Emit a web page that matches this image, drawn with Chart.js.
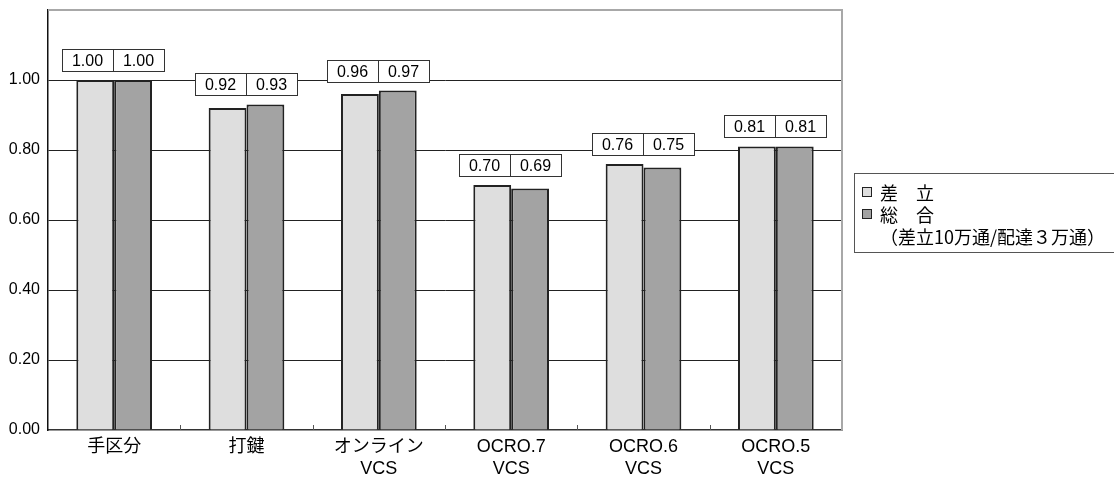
<!DOCTYPE html>
<html>
<head>
<meta charset="utf-8">
<script src="https://cdn.jsdelivr.net/npm/chart.js@4/dist/chart.umd.min.js"></script>
<style>
  html, body { margin: 0; padding: 0; background: #fff; }
  #wrap { width: 1114px; height: 480px; position: relative; }
</style>
</head>
<body>
<div id="wrap"><canvas id="c" width="1114" height="480"></canvas></div>
<script>
// Categories (multi-line labels) and the two series
const categories = [['手区分'], ['打鍵'], ['オンライン', 'VCS'], ['OCRO.7', 'VCS'], ['OCRO.6', 'VCS'], ['OCRO.5', 'VCS']];
const sashitate = [1.00, 0.92, 0.96, 0.70, 0.76, 0.81];
const sougou = [1.00, 0.93, 0.97, 0.69, 0.75, 0.81];
const seriesNames = ['差　立', '総　合'];
const legendNote = '（差立10万通/配達３万通）';
const yMax = 1.2;
const yStep = 0.2;

const LATIN = "'Liberation Sans', 'Noto Sans CJK JP', sans-serif";
const CJK = "'Noto Sans CJK JP', 'Liberation Sans', sans-serif";
const colors = ['#dedede', '#a3a3a3'];

// Frame, category separator ticks, boxed value labels and legend
const decorations = {
  id: 'decorations',
  afterDatasetsDraw(chart) {
    const ctx = chart.ctx;
    const { left, right, top, bottom } = chart.chartArea;
    const xs = chart.scales.x;
    ctx.save();

    // gray top/right border of the plot area
    ctx.strokeStyle = '#a8a8a8';
    ctx.lineWidth = 2;
    ctx.beginPath();
    ctx.moveTo(left, top);
    ctx.lineTo(right, top);
    ctx.lineTo(right, bottom);
    ctx.stroke();

    // small tick marks between categories
    ctx.strokeStyle = '#555';
    ctx.lineWidth = 1;
    for (let i = 1; i < categories.length; i++) {
      const x = Math.round((xs.getPixelForValue(i - 1) + xs.getPixelForValue(i)) / 2) + 0.5;
      ctx.beginPath();
      ctx.moveTo(x, bottom - 5);
      ctx.lineTo(x, bottom);
      ctx.stroke();
    }

    // boxed value labels above each pair of bars
    const m0 = chart.getDatasetMeta(0).data;
    const m1 = chart.getDatasetMeta(1).data;
    const cellW = 51, cellH = 22;
    ctx.font = '16px ' + LATIN;
    ctx.textAlign = 'center';
    ctx.textBaseline = 'middle';
    for (let i = 0; i < categories.length; i++) {
      const topY = Math.min(m0[i].y, m1[i].y);
      const cx = Math.round(xs.getPixelForValue(i)) - 1;
      const by = Math.round(topY - 9 - cellH) + 0.5;
      const bx = cx - cellW + 0.5;
      ctx.fillStyle = '#fff';
      ctx.fillRect(bx, by, cellW * 2, cellH);
      ctx.strokeStyle = '#333';
      ctx.lineWidth = 1;
      ctx.strokeRect(bx, by, cellW * 2, cellH);
      ctx.beginPath();
      ctx.moveTo(cx + 0.5, by);
      ctx.lineTo(cx + 0.5, by + cellH);
      ctx.stroke();
      ctx.fillStyle = '#000';
      ctx.fillText(sashitate[i].toFixed(2), cx - cellW / 2, by + cellH / 2 + 1);
      ctx.fillText(sougou[i].toFixed(2), cx + cellW / 2, by + cellH / 2 + 1);
    }

    // legend box
    const lx = 854.5, ly = 173.5, lb = 252.5;
    ctx.strokeStyle = '#555';
    ctx.lineWidth = 1;
    ctx.strokeRect(lx, ly, 1114 - lx + 5, lb - ly);
    ctx.textAlign = 'left';
    ctx.font = '18px ' + CJK;
    const rows = [192, 214];
    for (let k = 0; k < 2; k++) {
      ctx.fillStyle = colors[k];
      ctx.fillRect(862.5, rows[k] - 4.5, 9, 9);
      ctx.strokeStyle = '#222';
      ctx.strokeRect(862.5, rows[k] - 4.5, 9, 9);
      ctx.fillStyle = '#000';
      ctx.fillText(seriesNames[k], 880, rows[k] + 1);
    }
    ctx.fillText(legendNote, 880, 237);
    ctx.restore();
  }
};

new Chart(document.getElementById('c'), {
  type: 'bar',
  data: {
    labels: categories,
    datasets: [
      { label: seriesNames[0], data: sashitate, backgroundColor: colors[0], borderColor: '#222', borderWidth: 2 },
      { label: seriesNames[1], data: sougou, backgroundColor: colors[1], borderColor: '#222', borderWidth: 2 }
    ]
  },
  options: {
    responsive: false,
    animation: false,
    devicePixelRatio: 1,
    layout: { padding: { top: 10, right: 272, left: 0, bottom: 0 } },
    datasets: { bar: { categoryPercentage: 0.572, barPercentage: 1.0 } },
    plugins: { legend: { display: false }, tooltip: { enabled: false } },
    scales: {
      x: {
        grid: { display: false, drawTicks: false },
        border: { color: '#333', width: 1.5 },
        ticks: {
          color: '#000', padding: 6, maxRotation: 0, autoSkip: false,
          font: { family: LATIN, size: 18, lineHeight: 1.22 }
        },
        afterFit(scale) { scale.height = 50; scale.paddingLeft = 0; scale.paddingRight = 0; }
      },
      y: {
        min: 0, max: yMax,
        grid: {
          drawTicks: false,
          color: (c) => (c.tick.value <= 0.001 || c.tick.value > 1.1) ? 'rgba(0,0,0,0)' : '#222',
          lineWidth: 1
        },
        border: { color: '#111', width: 1.5 },
        ticks: {
          stepSize: yStep, color: '#000', padding: 8,
          font: { family: LATIN, size: 16 },
          callback: (v) => v > 1.01 ? '' : Number(v).toFixed(2)
        },
        afterFit(scale) { scale.width = 48; scale.paddingTop = 0; scale.paddingBottom = 0; }
      }
    }
  },
  plugins: [decorations]
});
</script>
</body>
</html>
